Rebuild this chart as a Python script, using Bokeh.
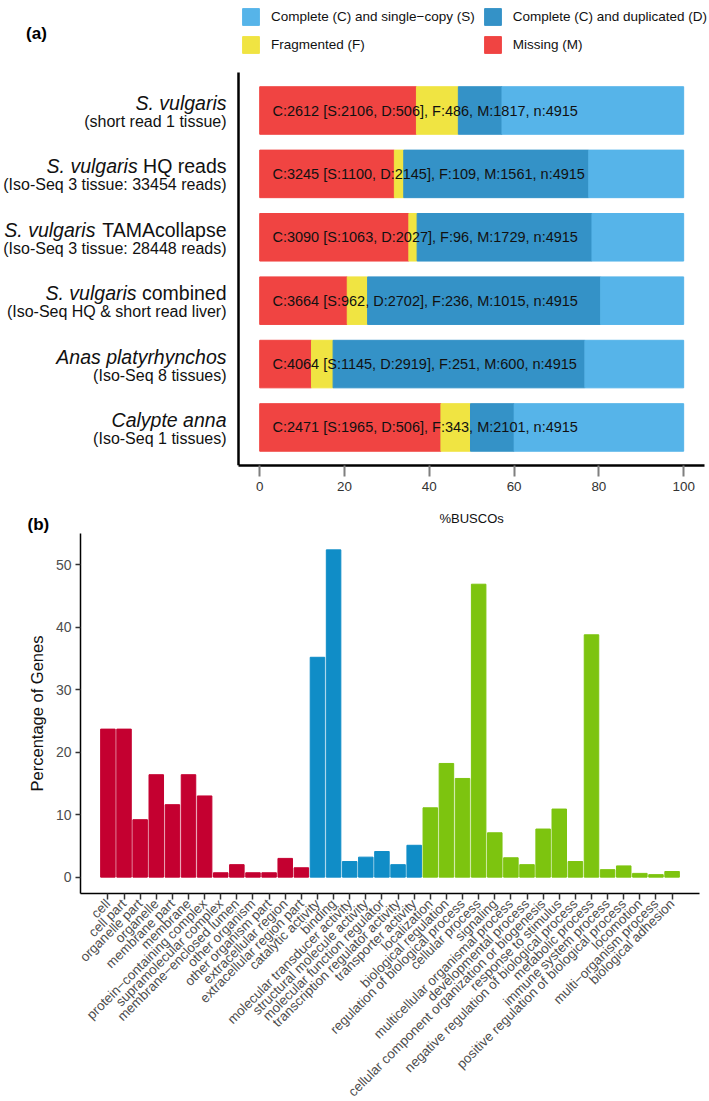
import math
from bokeh.plotting import figure
from bokeh.models import (ColumnDataSource, Range1d, FactorRange, FixedTicker,
                          Legend, LegendItem, Title)
from bokeh.embed import file_html
from bokeh.resources import INLINE
from bokeh.core.properties import value

FONT = "Liberation Sans"

# ---------------- Panel (a) data ----------------
species = ["S. vulgaris", "S. vulgaris", "S. vulgaris", "S. vulgaris",
           "Anas platyrhynchos", "Calypte anna"]
species_suffix = ["", "HQ reads", "TAMAcollapse", "combined", "", ""]
subtitles = ["(short read 1 tissue)", "(Iso-Seq 3 tissue: 33454 reads)",
             "(Iso-Seq 3 tissue: 28448 reads)", "(Iso-Seq HQ & short read liver)",
             "(Iso-Seq 8 tissues)", "(Iso-Seq 1 tissues)"]
single_copy = [2106, 1100, 1063, 962, 1145, 1965]
duplicated = [506, 2145, 2027, 2702, 2919, 506]
fragmented = [486, 109, 96, 236, 251, 343]
missing = [1817, 1561, 1729, 1015, 600, 2101]
legend_labels = ["Complete (C) and single\u2212copy (S)", "Complete (C) and duplicated (D)",
                 "Fragmented (F)", "Missing (M)"]
busco_colors = ["#56B4E9", "#3492C7", "#F0E442", "#F04442"]
pct_ticks = [0, 20, 40, 60, 80, 100]

# ---------------- Panel (b) data ----------------
cc_terms = ["cell", "cell part", "organelle part", "organelle", "membrane part", "membrane",
            "protein\u2212containing complex", "supramolecular complex",
            "membrane\u2212enclosed lumen", "other organism", "other organism part",
            "extracellular region", "extracellular region part"]
cc_pct = [23.7, 23.7, 9.2, 16.4, 11.6, 16.4, 13.0, 0.7, 2.0, 0.7, 0.7, 3.0, 1.5]
mf_terms = ["catalytic activity", "binding", "molecular transducer activity",
            "structural molecule activity", "molecular function regulator",
            "transcription regulator activity", "transporter activity"]
mf_pct = [35.2, 52.4, 2.5, 3.2, 4.1, 2.0, 5.1]
bp_terms = ["localization", "biological regulation", "regulation of biological process",
            "cellular process", "signaling", "multicellular organismal process",
            "developmental process", "cellular component organization or biogenesis",
            "response to stimulus", "negative regulation of biological process",
            "metabolic process", "immune system process",
            "positive regulation of biological process", "locomotion",
            "multi\u2212organism process", "biological adhesion"]
bp_pct = [11.1, 18.2, 15.8, 46.9, 7.1, 3.1, 2.0, 7.7, 10.9, 2.5, 38.8, 1.2, 1.8, 0.6, 0.4, 0.9]
group_colors = ["#C40030", "#108DC7", "#7DC40F"]
go_ticks = [0, 10, 20, 30, 40, 50]

# ---------------- helpers ----------------
_W = {' ': 278, 'H': 722, 'Q': 778, 'r': 333, 'e': 556, 'a': 556, 'd': 556, 's': 500,
      'T': 611, 'A': 667, 'M': 833, 'c': 500, 'o': 556, 'l': 222, 'p': 556, 'm': 833,
      'b': 556, 'i': 222, 'n': 556}


def text_width(s, size):
    return sum(_W.get(ch, 556) for ch in s) / 1000.0 * size


# ================= Panel (a) =================
# layout geometry (pixels)
A_W, A_H = 709, 465            # frame covers the full width, down to the axis line
PX0 = 259.2                    # pixel of 0 %
PXU = 4.2397                   # pixels per percent
ROW1_PX = 110.0                # pixel of first row centre
PYU = 63.39                    # pixels per row

n_rows = len(species)
ypos = [n_rows - i for i in range(n_rows)]
x_lo = -PX0 / PXU
x_hi = (A_W - PX0) / PXU
y_top = n_rows + ROW1_PX / PYU
y_bot = n_rows - (A_H - ROW1_PX) / PYU

totals = [s + d + f + m for s, d, f, m in zip(single_copy, duplicated, fragmented, missing)]
src_a = ColumnDataSource(dict(
    y=ypos,
    M=[100.0 * v / t for v, t in zip(missing, totals)],
    F=[100.0 * v / t for v, t in zip(fragmented, totals)],
    D=[100.0 * v / t for v, t in zip(duplicated, totals)],
    S=[100.0 * v / t for v, t in zip(single_copy, totals)],
    label=["C:%d [S:%d, D:%d], F:%d, M:%d, n:%d" % (s + d, s, d, f, m, t)
           for s, d, f, m, t in zip(single_copy, duplicated, fragmented, missing, totals)],
))

pa = figure(frame_width=A_W, frame_height=A_H,
            x_range=Range1d(x_lo, x_hi), y_range=Range1d(y_bot, y_top),
            y_axis_location=None,
            output_backend="svg", toolbar_location=None,
            min_border_left=0, min_border_right=0, min_border_top=0, min_border_bottom=0)
pa.outline_line_color = None
pa.grid.visible = False
pa.background_fill_color = "white"
pa.border_fill_color = "white"

rends = pa.hbar_stack(["M", "F", "D", "S"], y="y", height=0.75,
                      color=[busco_colors[3], busco_colors[2], busco_colors[1], busco_colors[0]],
                      source=src_a)
rmap = {"M": rends[0], "F": rends[1], "D": rends[2], "S": rends[3]}

pa.text(x=3, y="y", text="label", source=src_a, text_font=value(FONT),
        text_font_size="14.5px", text_baseline="middle", text_align="left",
        text_color="#111111")

# left axis line of the panel (expanded range: -5 %, rows +/- 0.6)
pa.segment(x0=[-5], y0=[1 - 0.6], x1=[-5], y1=[n_rows + 0.6], line_color="black",
           line_width=2.5)

# bottom axis
pa.xaxis.ticker = FixedTicker(ticks=pct_ticks)
pa.xaxis.bounds = (-5, 105)
pa.xaxis.axis_line_width = 2.5
pa.xaxis.axis_line_color = "black"
pa.xaxis.major_tick_out = 11
pa.xaxis.major_tick_in = 0
pa.xaxis.major_tick_line_width = 2
pa.xaxis.major_tick_line_color = "#7F7F7F"
pa.xaxis.minor_tick_line_color = None
pa.xaxis.major_label_standoff = 5
pa.xaxis.major_label_text_font = FONT
pa.xaxis.major_label_text_font_size = "13.4px"
pa.xaxis.major_label_text_color = "#333333"

pa.add_layout(Title(text="%BUSCOs", align="left", offset=439, standoff=31,
                    text_font=FONT, text_font_size="13px", text_font_style="normal",
                    text_color="#111111"), "below")

# y labels (mixed italic / regular), right-aligned
lab_x = (226 - PX0) / PXU
line1_dy = 7.5 / PYU
line2_dy = -11.0 / PYU
ital_src = ColumnDataSource(dict(
    x=[lab_x - (text_width(" " + s, 19.5) / PXU if s else 0) for s in species_suffix],
    y=[v + line1_dy for v in ypos], text=species))
suf_idx = [i for i, s in enumerate(species_suffix) if s]
suf_src = ColumnDataSource(dict(
    x=[lab_x] * len(suf_idx), y=[ypos[i] + line1_dy for i in suf_idx],
    text=[species_suffix[i] for i in suf_idx]))
sub_src = ColumnDataSource(dict(x=[lab_x] * n_rows, y=[v + line2_dy for v in ypos],
                                text=subtitles))

pa.text(x="x", y="y", text="text", source=ital_src, text_font=value(FONT),
        text_font_size="19.5px", text_font_style="italic", text_align="right",
        text_baseline="middle", text_color="#111111")
pa.text(x="x", y="y", text="text", source=suf_src, text_font=value(FONT),
        text_font_size="19.5px", text_align="right", text_baseline="middle",
        text_color="#111111")
pa.text(x="x", y="y", text="text", source=sub_src, text_font=value(FONT),
        text_font_size="16px", text_align="right", text_baseline="middle",
        text_color="#111111")

# panel tag (a)
pa.text(x=[(36 - PX0) / PXU], y=[n_rows + (ROW1_PX - 33) / PYU], text=["(a)"],
        text_font=value(FONT), text_font_size="17px", text_font_style="bold",
        text_align="center", text_baseline="middle", text_color="black")

# legend
legend = Legend(items=[LegendItem(label=legend_labels[0], renderers=[rmap["S"]]),
                       LegendItem(label=legend_labels[1], renderers=[rmap["D"]]),
                       LegendItem(label=legend_labels[2], renderers=[rmap["F"]]),
                       LegendItem(label=legend_labels[3], renderers=[rmap["M"]])],
                location=(240, 410), orientation="horizontal", ncols=2,
                glyph_width=21, glyph_height=21, label_standoff=10, spacing=7,
                label_width=203, label_height=21, padding=0, margin=0,
                border_line_color=None, background_fill_alpha=0,
                label_text_font=FONT, label_text_font_size="13.5px",
                label_text_color="#111111", label_text_baseline="middle")
pa.add_layout(legend)

# ================= Panel (b) =================
go_terms = cc_terms + mf_terms + bp_terms
go_pct = cc_pct + mf_pct + bp_pct
go_color = ([group_colors[0]] * len(cc_terms) + [group_colors[1]] * len(mf_terms)
            + [group_colors[2]] * len(bp_terms))
src_b = ColumnDataSource(dict(term=go_terms, pct=go_pct, color=go_color))

pb = figure(frame_width=619, frame_height=360,
            x_range=FactorRange(factors=go_terms, range_padding=1.2, range_padding_units="absolute"),
            y_range=Range1d(-2.62, 55.02),
            output_backend="svg", toolbar_location=None,
            min_border_left=80, min_border_right=10, min_border_top=0, min_border_bottom=0)
pb.margin = (-29, 0, 0, 0)
pb.outline_line_color = None
pb.grid.visible = False
pb.background_fill_color = "white"
pb.border_fill_color = None

pb.title = Title(text="(b)", align="left", offset=-53, standoff=0,
                 text_font=FONT, text_font_size="17px", text_font_style="bold",
                 text_color="black")

pb.vbar(x="term", top="pct", width=0.9, color="color", source=src_b)

pb.xaxis.major_label_orientation = math.pi / 4
pb.xaxis.major_label_text_font = FONT
pb.xaxis.major_label_text_font_size = "13.4px"
pb.xaxis.major_label_text_color = "#4D4D4D"
pb.xaxis.major_label_standoff = 2
pb.xaxis.major_tick_out = 6
pb.xaxis.major_tick_in = 0
pb.xaxis.major_tick_line_width = 1.5
pb.xaxis.major_tick_line_color = "#333333"
pb.xaxis.axis_line_width = 1.5
pb.xaxis.axis_line_color = "black"

pb.yaxis.ticker = FixedTicker(ticks=go_ticks)
pb.yaxis.axis_label = "Percentage of Genes"
pb.yaxis.axis_label_text_font = FONT
pb.yaxis.axis_label_text_font_style = "normal"
pb.yaxis.axis_label_text_font_size = "16.5px"
pb.yaxis.axis_label_text_color = "#111111"
pb.yaxis.axis_label_standoff = 7
pb.yaxis.major_label_text_font = FONT
pb.yaxis.major_label_text_font_size = "14px"
pb.yaxis.major_label_text_color = "#4D4D4D"
pb.yaxis.major_label_standoff = 4
pb.yaxis.major_tick_out = 5
pb.yaxis.major_tick_in = 0
pb.yaxis.major_tick_line_width = 1.5
pb.yaxis.major_tick_line_color = "#333333"
pb.yaxis.minor_tick_line_color = None
pb.yaxis.axis_line_width = 1.5
pb.yaxis.axis_line_color = "black"

open("out.html", "w").write(file_html([pa, pb], INLINE))
